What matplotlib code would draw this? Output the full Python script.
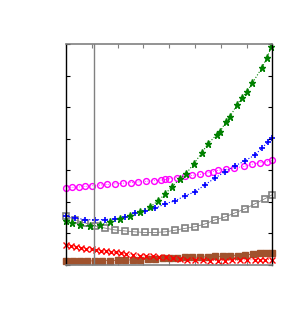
import numpy as np
import matplotlib
matplotlib.use("Agg")
import matplotlib.pyplot as plt

# values (axis units: x 0..8, y 0..7)
x_mag = [0.0, 0.25, 0.5, 0.75, 1.0, 1.3, 1.6, 1.9, 2.2, 2.5, 2.8, 3.1, 3.4, 3.7,
         3.85, 4.0, 4.3, 4.6, 4.9, 5.2, 5.5, 5.7, 5.9, 6.2, 6.5, 6.9, 7.2, 7.5, 7.8, 8.0]
y_mag = [2.44, 2.46, 2.47, 2.49, 2.51, 2.53, 2.55, 2.57, 2.59, 2.61, 2.63, 2.65, 2.67, 2.69,
         2.71, 2.73, 2.77, 2.81, 2.84, 2.87, 2.92, 2.96, 3.0, 3.03, 3.07, 3.12, 3.19, 3.24, 3.27, 3.31]

x_grn = [0.0, 0.23, 0.54, 0.93, 1.32, 1.71, 2.09, 2.48, 2.87, 3.26, 3.57, 3.84, 4.11, 4.42,
         4.65, 4.96, 5.27, 5.50, 5.85, 5.97, 6.20, 6.36, 6.63, 6.82, 7.02, 7.21, 7.60, 7.79, 7.95]
y_grn = [1.40, 1.33, 1.27, 1.22, 1.27, 1.37, 1.46, 1.56, 1.68, 1.84, 2.03, 2.25, 2.48, 2.73,
         2.89, 3.21, 3.56, 3.84, 4.13, 4.22, 4.54, 4.70, 5.08, 5.30, 5.49, 5.75, 6.25, 6.57, 6.89]

x_blu = [0.0, 0.35, 0.74, 1.12, 1.51, 1.90, 2.29, 2.67, 3.06, 3.45, 3.84, 4.22, 4.61, 5.0,
         5.39, 5.78, 6.16, 6.55, 6.94, 7.33, 7.60, 7.83, 7.98]
y_blu = [1.56, 1.49, 1.44, 1.43, 1.44, 1.46, 1.51, 1.65, 1.71, 1.79, 1.94, 2.03, 2.19, 2.32,
         2.54, 2.76, 2.95, 3.14, 3.30, 3.49, 3.71, 3.90, 4.03]

x_gry = [0.0, 0.35, 0.74, 1.12, 1.51, 1.90, 2.29, 2.67, 3.06, 3.45, 3.84, 4.22, 4.61, 5.0,
         5.39, 5.78, 6.16, 6.55, 6.94, 7.33, 7.71, 7.98]
y_gry = [1.56, 1.43, 1.33, 1.24, 1.17, 1.11, 1.08, 1.05, 1.03, 1.03, 1.05, 1.10, 1.16, 1.21,
         1.30, 1.43, 1.52, 1.65, 1.78, 1.94, 2.10, 2.22]

x_red = [0.0, 0.2, 0.39, 0.6, 0.78, 1.0, 1.16, 1.35, 1.55, 1.75, 1.94, 2.15, 2.33, 2.6, 2.87,
         3.1, 3.37, 3.6, 3.88, 4.15, 4.42, 4.7, 5.0, 5.3, 5.58, 5.9, 6.16, 6.45, 6.74,
         7.0, 7.33, 7.5, 7.71, 7.98]
y_red = [0.63, 0.60, 0.57, 0.55, 0.52, 0.50, 0.48, 0.45, 0.43, 0.41, 0.40, 0.37, 0.35, 0.33, 0.30,
         0.29, 0.27, 0.25, 0.24, 0.21, 0.19, 0.17, 0.16, 0.15, 0.14, 0.14, 0.14, 0.15, 0.16,
         0.16, 0.17, 0.17, 0.17, 0.17]

x_brn = [0.0, 0.27, 0.54, 0.83, 1.12, 1.4, 1.71, 2.0, 2.29, 2.58, 2.87, 3.16, 3.45, 3.75, 4.03,
         4.3, 4.61, 4.9, 5.19, 5.5, 5.78, 6.1, 6.36, 6.65, 6.94, 7.25, 7.52, 7.75, 7.98]
y_brn = [0.13, 0.13, 0.13, 0.13, 0.13, 0.14, 0.14, 0.15, 0.16, 0.16, 0.17, 0.18, 0.19, 0.21, 0.22,
         0.23, 0.24, 0.25, 0.25, 0.26, 0.27, 0.28, 0.29, 0.30, 0.32, 0.34, 0.37, 0.37, 0.38]

vline_x = 1.1

fig = plt.figure(figsize=(3.0, 3.14), dpi=100)
ax = fig.add_axes([0.22, 0.156, 0.688, 0.704])

ax.plot(x_mag, y_mag, ":", color="magenta", lw=0.6, marker="o", ms=4.2,
        mfc="none", mec="magenta", mew=1.0, clip_on=False)
ax.plot(x_gry, y_gry, "-", color="gray", lw=0.6, marker="s", ms=4.4,
        mfc="none", mec="gray", mew=1.2, clip_on=False)
ax.plot(x_brn, y_brn, "-", color="sienna", lw=0.6, marker="s", ms=4.8,
        mfc="sienna", mec="sienna", clip_on=False)
ax.plot(x_red, y_red, ":", color="red", lw=0.6, marker="x", ms=4.0,
        mec="red", mew=1.0, clip_on=False)
ax.plot(x_blu, y_blu, ":", color="blue", lw=0.8, marker="+", ms=5.0,
        mec="blue", mew=1.2, clip_on=False)
ax.plot(x_grn, y_grn, ":", color="green", lw=0.8, marker="*", ms=5.2,
        mfc="green", mec="green", clip_on=False)

ax.axvline(vline_x, color="gray", lw=1.0)

ax.set_xlim(0, 8)
ax.set_ylim(0, 7)
ax.set_xticks(range(0, 9))
ax.set_yticks(range(0, 8))
ax.tick_params(direction="in", length=3, top=True, right=True,
               labelbottom=False, labelleft=False)
ax.tick_params(axis="x", colors="gray")
for s in ["top", "bottom"]:
    ax.spines[s].set_color("gray")
    ax.spines[s].set_linewidth(1.2)
for s in ["left", "right"]:
    ax.spines[s].set_color("black")
    ax.spines[s].set_linewidth(1.0)

fig.savefig("out.png", dpi=100)
